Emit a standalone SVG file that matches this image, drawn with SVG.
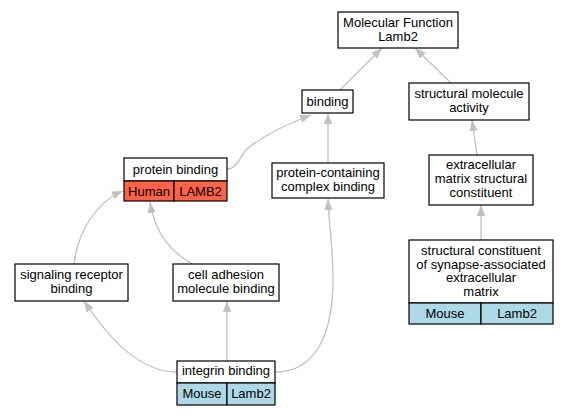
<svg xmlns="http://www.w3.org/2000/svg" width="567" height="416" viewBox="0 0 567 416">
<defs>
<style>
.box{fill:#ffffff;stroke:#000000;stroke-width:1.2}
.human{fill:#ff6347;stroke:#000000;stroke-width:1.2}
.mouse{fill:#add8e6;stroke:#000000;stroke-width:1.2}
text{font-family:"Liberation Sans",Arial,sans-serif;font-size:13px;fill:#000000;text-anchor:middle}
.edge{fill:none;stroke:#c0c0c0;stroke-width:1.3;marker-end:url(#arr)}
</style>
<marker id="arr" markerUnits="userSpaceOnUse" markerWidth="12" markerHeight="9" refX="11" refY="4.2" orient="auto">
<path d="M0,0 L11,4.2 L0,8.4 z" fill="#c0c0c0"/>
</marker>
</defs>
<rect width="567" height="416" fill="#ffffff"/>
<g id="edges">
<path class="edge" d="M340,90 L382,48"/>
<path class="edge" d="M451,83 L415,48"/>
<path class="edge" d="M477,155 L472,120"/>
<path class="edge" d="M481,240 L481,205"/>
<path class="edge" d="M328,163 L328,113"/>
<path class="edge" d="M227,169 C238,169 240,155 248,148 C263,136 285,125 311,115"/>
<path class="edge" d="M74,264 C78,232 95,203 123,191"/>
<path class="edge" d="M192,264 C172,252 155,235 150,202"/>
<path class="edge" d="M227,361 L227,301"/>
<path class="edge" d="M177,372 C140,372 110,340 84,301"/>
<path class="edge" d="M275,372 C318,372 333,330 333,280 C333,245 329,225 328,199"/>
</g>
<g id="mf">
<rect class="box" x="338" y="12" width="120" height="36"/>
<text x="398" y="26.5">Molecular Function</text>
<text x="398" y="40.5">Lamb2</text>
</g>
<g id="binding">
<rect class="box" x="302" y="90" width="51" height="23"/>
<text x="327.5" y="105.5">binding</text>
</g>
<g id="sma">
<rect class="box" x="409" y="83" width="120" height="37"/>
<text x="469" y="97.5">structural molecule</text>
<text x="469" y="111.5">activity</text>
</g>
<g id="protein_binding">
<rect class="box" x="124" y="158" width="103" height="23"/>
<rect class="human" x="124" y="181" width="50" height="20"/>
<rect class="human" x="174" y="181" width="53" height="20"/>
<text x="175.5" y="173.5">protein binding</text>
<text x="149" y="195.5">Human</text>
<text x="200.5" y="195.5">LAMB2</text>
</g>
<g id="pccb">
<rect class="box" x="272" y="163" width="112" height="35"/>
<text x="328" y="177">protein-containing</text>
<text x="328" y="191">complex binding</text>
</g>
<g id="ecm">
<rect class="box" x="429" y="155" width="104" height="50"/>
<text x="481" y="169">extracellular</text>
<text x="481" y="183">matrix structural</text>
<text x="481" y="197">constituent</text>
</g>
<g id="signaling">
<rect class="box" x="15" y="264" width="113" height="37"/>
<text x="71.5" y="278.5">signaling receptor</text>
<text x="71.5" y="292.5">binding</text>
</g>
<g id="cell_adhesion">
<rect class="box" x="173" y="264" width="106" height="37"/>
<text x="226" y="278.5">cell adhesion</text>
<text x="226" y="292.5">molecule binding</text>
</g>
<g id="integrin">
<rect class="box" x="177" y="361" width="98" height="22"/>
<rect class="mouse" x="177" y="383" width="50" height="22"/>
<rect class="mouse" x="227" y="383" width="48" height="22"/>
<text x="226" y="375">integrin binding</text>
<text x="202" y="397.5">Mouse</text>
<text x="251" y="397.5">Lamb2</text>
</g>
<g id="sc_synapse">
<rect class="box" x="409" y="240" width="144" height="63"/>
<rect class="mouse" x="409" y="303" width="72" height="21"/>
<rect class="mouse" x="481" y="303" width="72" height="21"/>
<text x="481" y="255">structural constituent</text>
<text x="481" y="268.5">of synapse-associated</text>
<text x="481" y="282">extracellular</text>
<text x="481" y="295.5">matrix</text>
<text x="445" y="317.5">Mouse</text>
<text x="517" y="317.5">Lamb2</text>
</g>
</svg>
